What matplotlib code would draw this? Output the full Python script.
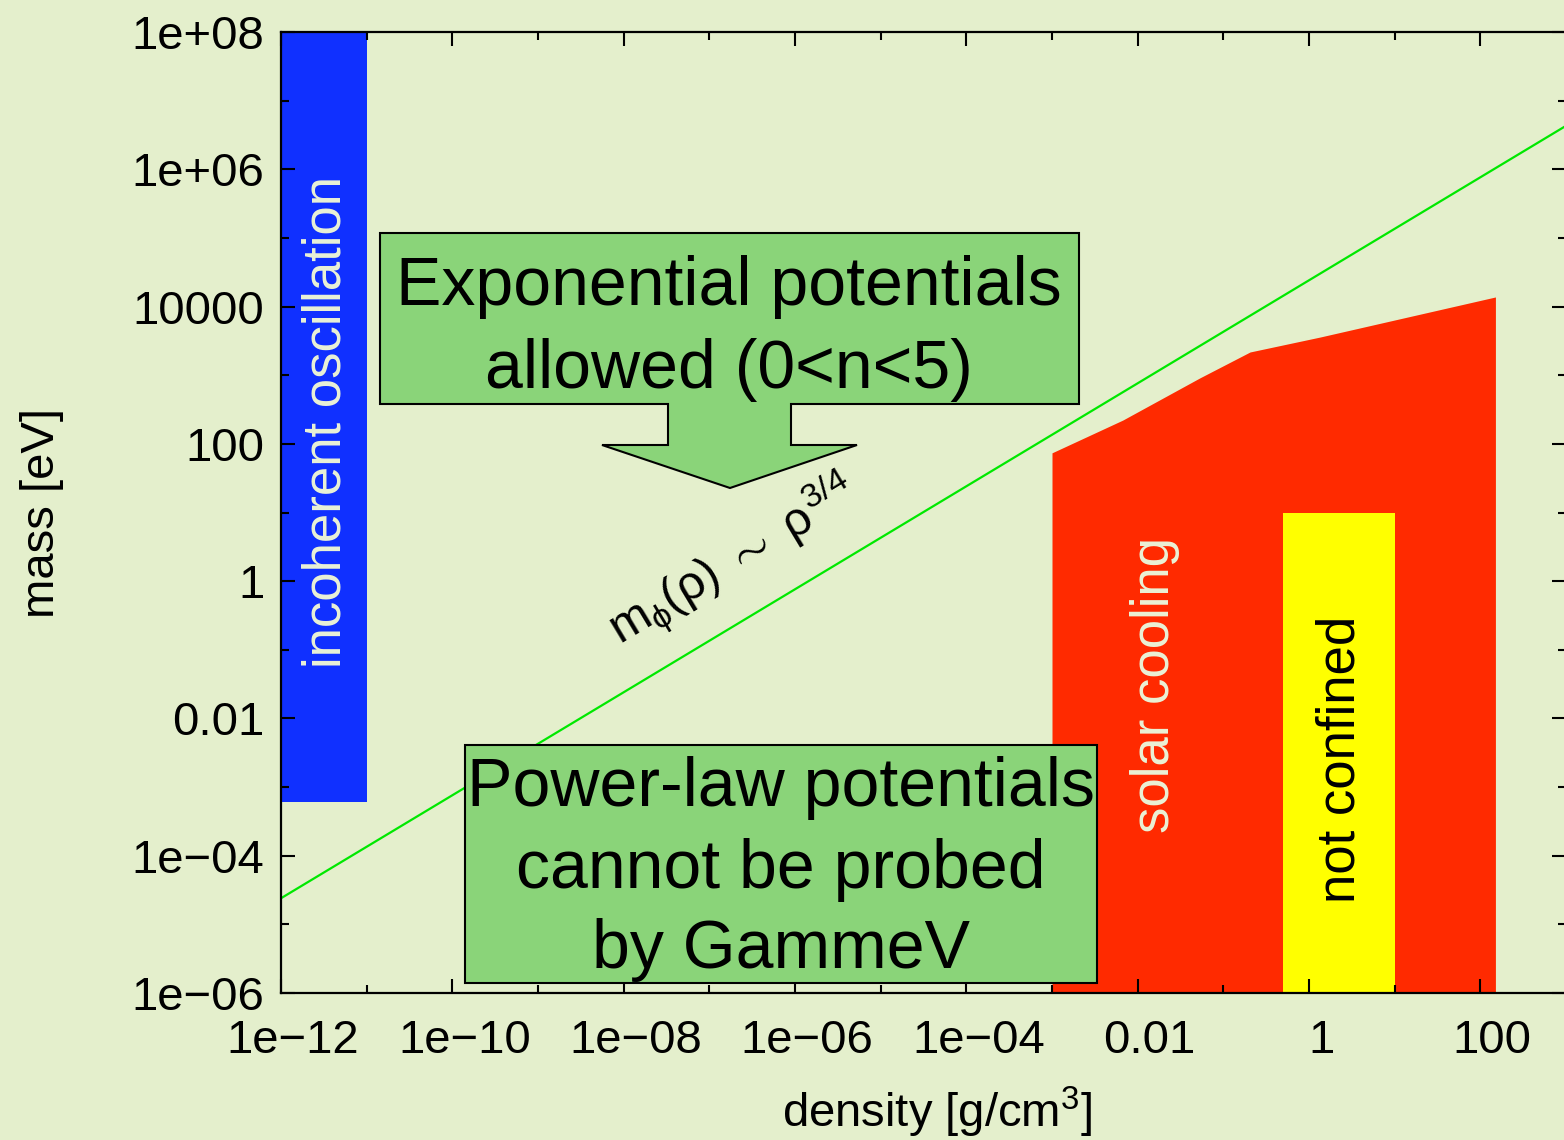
import matplotlib
matplotlib.use("Agg")
import matplotlib.pyplot as plt
import matplotlib.transforms as mtransforms
from matplotlib.patches import Polygon, Rectangle
from matplotlib.ticker import NullFormatter

plt.rcParams["font.family"] = ["Liberation Sans", "DejaVu Sans"]
plt.rcParams["mathtext.fontset"] = "custom"
plt.rcParams["mathtext.rm"] = "Liberation Sans"
plt.rcParams["mathtext.it"] = "Liberation Sans"
plt.rcParams["mathtext.bf"] = "Liberation Sans:bold"

# ---- data ---- #
x_ticks = [1e-12, 1e-10, 1e-8, 1e-6, 1e-4, 1e-2, 1, 100]
x_tick_labels = ["1e\u221212", "1e\u221210", "1e\u221208", "1e\u221206",
                 "1e\u221204", "0.01", "1", "100"]
x_minor = [1e-11, 1e-9, 1e-7, 1e-5, 1e-3, 1e-1, 10]
y_ticks = [1e-6, 1e-4, 1e-2, 1, 100, 1e4, 1e6, 1e8]
y_tick_labels = ["1e\u221206", "1e\u221204", "0.01", "1", "100", "10000",
                 "1e+06", "1e+08"]
y_minor = [1e-5, 1e-3, 1e-1, 10, 1e3, 1e5, 1e7]

# incoherent oscillation band
osc_x = [1e-12, 1e-11]
osc_ymin, osc_ymax = 6e-4, 1e8

# solar cooling exclusion (upper boundary)
solar_x = [1e-3, 6.7e-3, 0.053, 0.205, 1.35, 150]
solar_ytop = [74, 222, 912, 2180, 3600, 13800]

# not confined band
nc_x = [0.5, 10]
nc_ytop = 10

# chameleon mass line m ~ rho^(3/4)
line_x = [1e-12, 1e3]
line_y = [2.4e-5, 4.3e6]

BG = "#e4efcc"
CREAM = "#eaf2d6"
BOX = "#8ad479"

W, H = 1564, 1140
fig = plt.figure(figsize=(W / 100, H / 100), dpi=100, facecolor=BG)
ax = fig.add_axes([281 / W, 1 - 993 / H, (1566 - 281) / W, (993 - 32) / H])
ax.set_facecolor("none")
ax.set_xscale("log")
ax.set_yscale("log")
ax.set_xlim(1e-12, 1e3)
ax.set_ylim(1e-6, 1e8)

ax.fill_between(osc_x, osc_ymin, osc_ymax, color="#1030ff", lw=0, zorder=1)
ax.fill_between(solar_x, 1e-6, solar_ytop, color="#ff2a00", lw=0, zorder=1)
ax.fill_between(nc_x, 1e-6, nc_ytop, color="#ffff00", lw=0, zorder=1.1)
ax.plot(line_x, line_y, color="#00e800", lw=1.6, zorder=1.2)

ax.text(3.4e-12, 210, "incoherent oscillation", rotation=90, color=CREAM,
        fontsize=38, ha="center", va="center")
ax.text(0.0159, 0.0307, "solar cooling", rotation=90, color=CREAM,
        fontsize=38, ha="center", va="center")
ax.text(2.31, 2.57e-3, "not confined", rotation=90, color="black",
        fontsize=38, ha="center", va="center")
ax.text(1.9e-7, 1.9, r"$m_{\phi}(\rho)\ \sim\ \rho^{3/4}$", rotation=31,
        rotation_mode="anchor", fontsize=35, ha="center", va="center")

ax.set_xticks(x_ticks)
ax.set_xticklabels(x_tick_labels)
ax.set_xticks(x_minor, minor=True)
ax.set_yticks(y_ticks)
ax.set_yticklabels(y_tick_labels)
ax.set_yticks(y_minor, minor=True)
ax.xaxis.set_minor_formatter(NullFormatter())
ax.yaxis.set_minor_formatter(NullFormatter())
ax.tick_params(which="both", direction="in", top=True, right=True,
               width=1.5, labelsize=34)
ax.tick_params(which="major", length=10)
ax.tick_params(which="minor", length=5.5)
ax.tick_params(axis="x", which="major", pad=19)
ax.tick_params(axis="y", which="major", pad=12)
for s in ax.spines.values():
    s.set_linewidth(1.6)

# gnuplot-style x labels sit a little right of their ticks
offset = mtransforms.ScaledTranslation(12 / 100, 0, fig.dpi_scale_trans)
for lbl in ax.get_xticklabels():
    lbl.set_transform(lbl.get_transform() + offset)

# label positions in axes fractions, from reference pixel positions
ax.set_xlabel("density [g/cm$^{3}$]", fontsize=34)
ax.xaxis.set_label_coords((937 - 281) / (1566 - 281), -(1085 - 993) / (993 - 32))
ax.set_ylabel("mass [eV]", fontsize=34)
ax.yaxis.set_label_coords(-(281 - 64) / (1566 - 281), 0.5)


def px(x, y):
    return (x / W, 1 - y / H)


# ---- annotation boxes (figure pixel layout) ---- #
box1 = [(380, 233), (1079, 233), (1079, 404), (791, 404), (791, 445),
        (857, 445), (730, 488), (602, 445), (668, 445), (668, 404),
        (380, 404)]
fig.add_artist(Polygon([px(*p) for p in box1], closed=True, facecolor=BOX,
                       edgecolor="black", lw=1.5, transform=fig.transFigure,
                       zorder=10))
fig.add_artist(Rectangle(px(465, 983), (1097 - 465) / W, (983 - 745) / H,
                         facecolor=BOX, edgecolor="black", lw=1.5,
                         transform=fig.transFigure, zorder=10))

for txt, (x, y) in [("Exponential potentials", (729, 305)),
                    ("allowed (0<n<5)", (729, 388)),
                    ("Power-law potentials", (781, 806)),
                    ("cannot be probed", (781, 888)),
                    ("by GammeV", (781, 968))]:
    fig.text(*px(x, y), txt, fontsize=49, ha="center", va="baseline",
             zorder=11)

fig.savefig("out.png", dpi=100, facecolor=BG)
